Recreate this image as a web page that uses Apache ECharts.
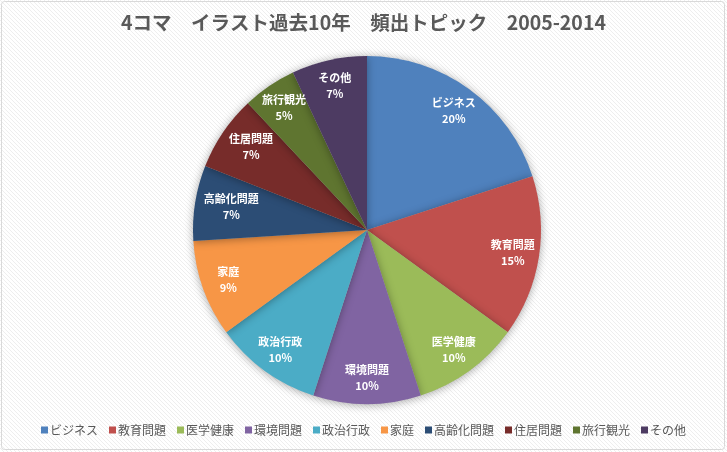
<!DOCTYPE html>
<html>
<head>
<meta charset="utf-8">
<script src="https://cdn.jsdelivr.net/npm/echarts@6/dist/echarts.min.js"></script>
<style>
html,body{margin:0;padding:0;background:#fff;}
#chart{width:727px;height:452px;}
</style>
</head>
<body>
<div id="chart"></div>
<script>
var categories = ['ビジネス','教育問題','医学健康','環境問題','政治行政','家庭','高齢化問題','住居問題','旅行観光','その他'];
var values = [20,15,10,10,10,9,7,7,5,7];
var colors = ['#4F81BD','#C0504D','#9BBB59','#8064A2','#4BACC6','#F79646','#2C4D75','#772C2A','#5F7530','#4D3B62'];
var titleText = '4コマ　イラスト過去10年　頻出トピック　2005-2014';

// diagonal hatch background
var pc = document.createElement('canvas');
pc.width = 4; pc.height = 4;
var pctx = pc.getContext('2d');
pctx.fillStyle = '#ffffff';
pctx.fillRect(0,0,4,4);
pctx.fillStyle = '#eeeeee';
for (var i = 0; i < 4; i++) { pctx.fillRect(i, i, 1, 1); }

var FONT = '"Noto Sans CJK JP", "Noto Sans", sans-serif';
var chart = echarts.init(document.getElementById('chart'), null, {renderer:'canvas'});
var data = categories.map(function(c,i){ return {name:c, value:values[i]}; });
var total = values.reduce(function(a,b){return a+b;},0);

chart.setOption({
  backgroundColor: {image: pc, repeat: 'repeat'},
  color: colors,
  animation: false,
  title: {
    text: titleText,
    left: 'center',
    top: 8,
    textStyle: {fontFamily: FONT, fontSize: 19.5, fontWeight: 'bold', color: '#595959'}
  },
  legend: {
    data: categories,
    bottom: 11,
    left: 'center',
    itemWidth: 7,
    itemHeight: 7,
    itemGap: 11,
    icon: 'rect',
    textStyle: {fontFamily: FONT, fontSize: 12, color: '#595959', padding: [0,0,0,-3]}
  },
  graphic: [{
    type: 'rect',
    shape: {x: 1.5, y: 1.5, width: 723, height: 448, r: 3},
    style: {fill: 'none', stroke: '#d9d9d9', lineWidth: 1},
    silent: true
  }],
  series: [{
    type: 'pie',
    center: [367, 230],
    radius: [0, 174],
    startAngle: 90,
    clockwise: true,
    data: data,
    label: {show: false},
    labelLine: {show: false},
    itemStyle: {shadowBlur: 8, shadowColor: 'rgba(0,0,0,0.35)', shadowOffsetY: 1},
    emphasis: {disabled: true}
  },{
    type: 'pie',
    center: [367, 230],
    radius: [115, 174],
    startAngle: 90,
    clockwise: true,
    silent: true,
    legendHoverLink: false,
    data: data.map(function(d, i){
      var o = {name: d.name, value: d.value, itemStyle:{color:'rgba(0,0,0,0)'}};
      if (i === 6) { o.label = {offset: [10, 0]}; }
      if (i === 7) { o.label = {offset: [6, 0]}; }
      return o;
    }),
    label: {
      show: true,
      position: 'inside',
      formatter: function(p){ return p.name + '\n' + Math.round(p.value/total*100) + '%'; },
      fontFamily: FONT,
      fontSize: 11,
      fontWeight: 'bold',
      color: '#ffffff',
      lineHeight: 16
    },
    labelLine: {show: false},
    emphasis: {disabled: true}
  }]
});
</script>
</body>
</html>
